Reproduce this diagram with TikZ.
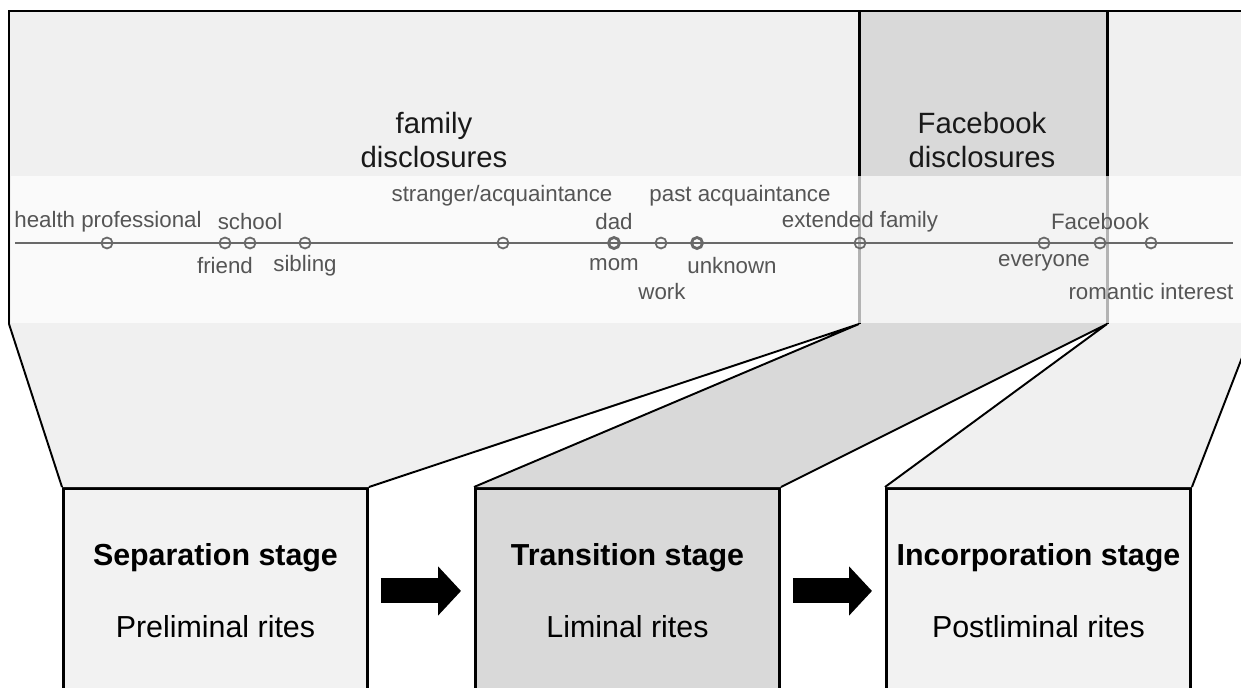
\documentclass[tikz,border=0pt]{standalone}
\usepackage{fontspec}
\setmainfont{Liberation Sans}
\usetikzlibrary{arrows.meta}
\definecolor{stagefill}{RGB}{242,242,242}
\definecolor{liminalfill}{RGB}{217,217,217}
\definecolor{framefill}{RGB}{240,240,240}
\definecolor{axisgray}{RGB}{105,105,105}
\definecolor{labelgray}{RGB}{85,85,85}
\tikzstyle{stagebox} = [draw, line width=1.7pt, anchor=north west, minimum width=6.08cm, minimum height=4.1cm, align=center, inner sep=0pt, font=\fontsize{17.3}{20}\selectfont]
\tikzstyle{dot} = [circle, draw=axisgray, line width=1pt, inner sep=0pt, minimum size=0.22cm]
\tikzstyle{bolddot} = [dot, line width=1.6pt]
\tikzstyle{axislabel} = [text=labelgray, inner sep=0pt, font=\fontsize{12.7}{15}\selectfont]
\tikzstyle{title} = [align=center, inner sep=0pt, text=black!90, font=\fontsize{16.7}{19.5}\selectfont]
\tikzstyle{blockarrow} = [line width=0.5cm, -{Triangle[length=0.46cm, width=0.96cm]}, shorten <=0.24cm, shorten >=0.26cm]

\begin{document}
\begin{tikzpicture}[x=0.02cm, y=-0.02cm]
            \useasboundingbox (0,0) rectangle (1241,687);
            \clip (0,0) rectangle (1241,687);

            \node[stagebox, fill=stagefill] (sep) at (62,487)
                {\textbf{Separation stage}\\[21pt]Preliminal rites};
            \node[stagebox, fill=liminalfill] (trans) at (474,487)
                {\textbf{Transition stage}\\[21pt]Liminal rites};
            \node[stagebox, fill=stagefill] (inc) at (885,487)
                {\textbf{Incorporation stage}\\[21pt]Postliminal rites};

            \coordinate (fl) at (9,324);
            \coordinate (fa) at (859,324);
            \coordinate (fb) at (1107,324);
            \coordinate (fr) at (1255,324);

            \fill[framefill] (9,11) rectangle (1270,324);
            \fill[liminalfill] (859,11) rectangle (1107,324);
            \fill[framefill] (fl) -- (fa) -- (sep.north east) -- (sep.north west) -- cycle;
            \fill[liminalfill] (fa) -- (fb) -- (trans.north east) -- (trans.north west) -- cycle;
            \fill[framefill] (fb) -- (fr) -- (inc.north east) -- (inc.north west) -- cycle;

            \draw[line width=1.7pt] (1270,11) -- (9,11) -- (fl);
            \draw[line width=1.7pt] (859,11) -- (fa);
            \draw[line width=1.7pt] (1107,11) -- (fb);
            \draw[line width=1.1pt] (fl) -- (sep.north west);
            \draw[line width=1.1pt] (sep.north east) -- (fa) -- (trans.north west);
            \draw[line width=1.1pt] (trans.north east) -- (fb) -- (inc.north west);
            \draw[line width=1.1pt] (inc.north east) -- (fr);

            \fill[white, opacity=0.7] (11,176) rectangle (1270,323);

            \node[title] (famtitle) at (434,140) {family\\disclosures};
            \node[title] (fbtitle) at (982,140) {Facebook\\disclosures};

            \coordinate (axl) at (15,243);
            \coordinate (axr) at (1233,243);
            \draw[axisgray, line width=1.1pt] (axl) -- (axr);

            \node[dot] (hp) at (107,243) {};
            \node[dot] (friend) at (225,243) {};
            \node[dot] (school) at (250,243) {};
            \node[dot] (sibling) at (305,243) {};
            \node[dot] (stranger) at (503,243) {};
            \node[bolddot] (parents) at (614,243) {};
            \node[dot] (work) at (661,243) {};
            \node[bolddot] (unknown) at (697,243) {};
            \node[dot] (extended) at (860,243) {};
            \node[dot] (everyone) at (1044,243) {};
            \node[dot] (facebook) at (1100,243) {};
            \node[dot] (romantic) at (1151,243) {};

            \node[axislabel] (hplabel) at (108,222) {health professional};
            \node[axislabel] (schoollabel) at (250,222) {school};
            \node[axislabel] (friendlabel) at (225,266) {friend};
            \node[axislabel] (siblinglabel) at (305,266) {sibling};
            \node[axislabel] (strangerlabel) at (502,196) {stranger/acquaintance};
            \node[axislabel] (dadlabel) at (614,222) {dad};
            \node[axislabel] (momlabel) at (614,265) {mom};
            \node[axislabel] (worklabel) at (662,292) {work};
            \node[axislabel] (pastlabel) at (740,196) {past acquaintance};
            \node[axislabel] (unknownlabel) at (732,266) {unknown};
            \node[axislabel] (extendedlabel) at (860,222) {extended family};
            \node[axislabel] (facebooklabel) at (1100,222) {Facebook};
            \node[axislabel] (everyonelabel) at (1044,263) {everyone};
            \node[axislabel] (romanticlabel) at (1151,292) {romantic interest};

            \draw[blockarrow] (sep) -- (trans);
            \draw[blockarrow] (trans) -- (inc);
        \end{tikzpicture}
\end{document}
